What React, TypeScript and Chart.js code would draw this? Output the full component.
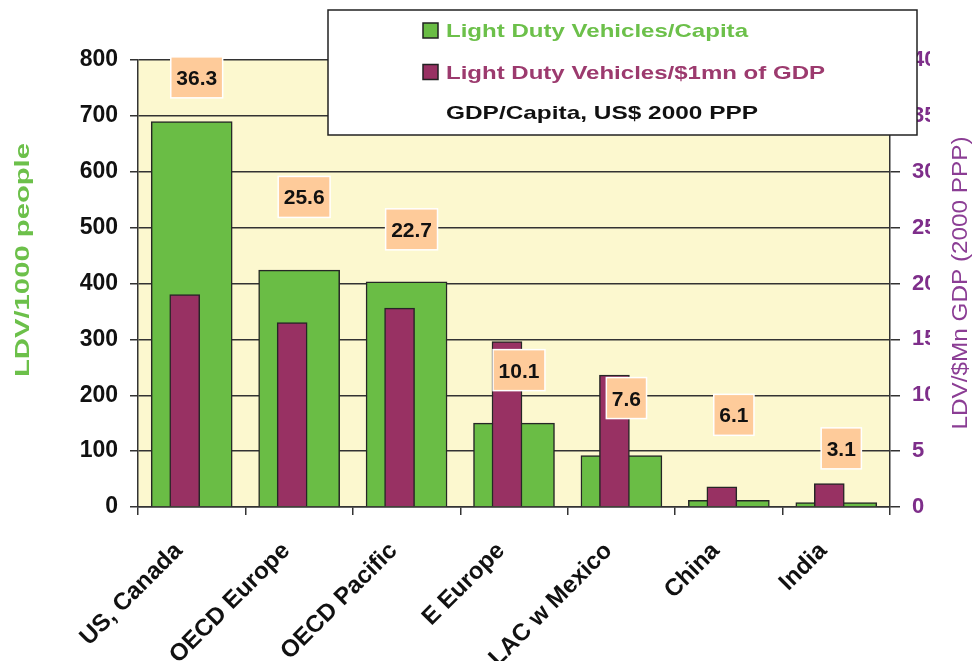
import { useEffect, useRef } from "react";
import { Chart, registerables } from "chart.js";

Chart.register(...registerables);

const categories = ["US, Canada", "OECD Europe", "OECD Pacific", "E Europe", "LAC w Mexico", "China", "India"];
const ldvPerThousand = [690, 424, 403, 150, 92, 12, 8];
const ldvPerMnGdp = [19.0, 16.5, 17.8, 14.8, 11.8, 1.8, 2.1];
const gdpPerCapita = [36.3, 25.6, 22.7, 10.1, 7.6, 6.1, 3.1];
const seriesLabels = [
  "Light Duty Vehicles/Capita",
  "Light Duty Vehicles/$1mn of GDP",
  "GDP/Capita, US$ 2000 PPP",
];
const leftAxisTitle = "LDV/1000 people";
const rightAxisTitle = "LDV/$Mn GDP (2000 PPP)";
const leftAxisRange = [0, 800, 100];
const rightAxisRange = [0, 40, 5];

const FONT = "'Liberation Sans', Arial, sans-serif";
const GREEN = "#6ABD45";
const PURPLE = "#983163";
const PLOT_BG = "#FCF8CF";
const GRID = "#333333";

function drawFitted(
  ctx: CanvasRenderingContext2D,
  text: string,
  cx: number,
  cy: number,
  targetWidth: number,
  rotation: number,
  align: "center" | "left"
) {
  const w = ctx.measureText(text).width;
  const sx = targetWidth / w;
  ctx.save();
  ctx.translate(cx, cy);
  ctx.rotate(rotation);
  ctx.scale(sx, 1);
  ctx.textAlign = align;
  ctx.fillText(text, 0, 0);
  ctx.restore();
}

const backgroundPlugin = {
  id: "plotBackground",
  beforeDraw(chart: any) {
    const { ctx, chartArea } = chart;
    ctx.save();
    ctx.fillStyle = PLOT_BG;
    ctx.fillRect(chartArea.left, chartArea.top, chartArea.right - chartArea.left, chartArea.bottom - chartArea.top);
    ctx.restore();
  },
};

const gdpLabelPlugin = {
  id: "gdpLabels",
  afterDatasetsDraw(chart: any) {
    const { ctx } = chart;
    const meta = chart.getDatasetMeta(2);
    const values = chart.data.datasets[2].data as number[];
    ctx.save();
    ctx.font = `bold 21px ${FONT}`;
    meta.data.forEach((pt: any, i: number) => {
      const text = values[i].toFixed(1);
      const tw = ctx.measureText(text).width;
      const w = tw + 11;
      const h = 41;
      const cx = pt.x + 5;
      const cy = pt.y - 24;
      ctx.fillStyle = "#FECB9A";
      ctx.fillRect(cx - w / 2, cy - h / 2, w, h);
      ctx.strokeStyle = "#FFFFFF";
      ctx.lineWidth = 1.5;
      ctx.strokeRect(cx - w / 2, cy - h / 2, w, h);
      ctx.fillStyle = "#111111";
      ctx.textAlign = "center";
      ctx.textBaseline = "alphabetic";
      ctx.fillText(text, cx, cy + 7.5);
    });
    ctx.restore();
  },
};

const overlayPlugin = {
  id: "overlay",
  afterDraw(chart: any) {
    const { ctx } = chart;
    ctx.save();
    // axis titles
    ctx.textBaseline = "middle";
    ctx.font = `bold 21px ${FONT}`;
    ctx.fillStyle = "#6CC04A";
    drawFitted(ctx, leftAxisTitle, 23, 260, 234, -Math.PI / 2, "center");
    ctx.font = `22px ${FONT}`;
    ctx.fillStyle = "#8B3D94";
    drawFitted(ctx, rightAxisTitle, 961, 283, 293, -Math.PI / 2, "center");

    // legend box
    const bx = 328, by = 10, bw = 589, bh = 125;
    ctx.fillStyle = "#FFFFFF";
    ctx.fillRect(bx, by, bw, bh);
    ctx.strokeStyle = "#222222";
    ctx.lineWidth = 1.5;
    ctx.strokeRect(bx, by, bw, bh);

    const ds = chart.data.datasets;
    const rows = [
      { y: 37, color: "#6CC04A", box: ds[0].backgroundColor, width: 302 },
      { y: 78.5, color: "#9C3A6E", box: ds[1].backgroundColor, width: 379 },
      { y: 119, color: "#111111", box: null, width: 312 },
    ];
    ctx.font = `bold 19px ${FONT}`;
    ctx.textBaseline = "alphabetic";
    rows.forEach((r, i) => {
      if (r.box) {
        ctx.fillStyle = r.box;
        ctx.fillRect(423, r.y - 14, 15, 15);
        ctx.strokeStyle = "#222222";
        ctx.lineWidth = 1.5;
        ctx.strokeRect(423, r.y - 14, 15, 15);
      }
      ctx.fillStyle = r.color;
      drawFitted(ctx, ds[i].label, 446, r.y, r.width, 0, "left");
    });
    ctx.restore();
  },
};

export default function App() {
  const canvasRef = useRef<HTMLCanvasElement | null>(null);

  useEffect(() => {
    if (!canvasRef.current) return;
    const shift = 7 / 107.43;
    const chart = new Chart(canvasRef.current, {
      type: "bar",
      data: {
        labels: categories,
        datasets: [
          {
            type: "bar",
            label: seriesLabels[0],
            data: ldvPerThousand,
            backgroundColor: GREEN,
            borderColor: "#262626",
            borderWidth: 1.5,
            barThickness: 81,
            grouped: false,
            xAxisID: "x",
            yAxisID: "y",
            order: 2,
          },
          {
            type: "bar",
            label: seriesLabels[1],
            data: ldvPerMnGdp.map((v, i) => ({ x: i, y: v })),
            backgroundColor: PURPLE,
            borderColor: "#262626",
            borderWidth: 1.5,
            barThickness: 30,
            grouped: false,
            xAxisID: "x2",
            yAxisID: "y2",
            order: 1,
          },
          {
            type: "line",
            label: seriesLabels[2],
            data: gdpPerCapita,
            showLine: false,
            pointRadius: 0,
            pointHoverRadius: 0,
            borderColor: "rgba(0,0,0,0)",
            backgroundColor: "rgba(0,0,0,0)",
            xAxisID: "x",
            yAxisID: "y2",
            order: 0,
          },
        ] as any,
      },
      options: {
        responsive: false,
        animation: false,
        devicePixelRatio: 1,
        layout: { padding: { left: 80, right: 43, top: 60, bottom: 0 } },
        plugins: {
          legend: { display: false },
          tooltip: { enabled: false },
          title: { display: false },
        },
        scales: {
          x: {
            type: "category",
            offset: true,
            grid: {
              offset: true,
              drawOnChartArea: false,
              drawTicks: true,
              tickLength: 8,
              color: GRID,
              lineWidth: 1.5,
            },
            border: { display: true, color: GRID, width: 1.5 },
            ticks: {
              minRotation: 45,
              maxRotation: 45,
              autoSkip: false,
              padding: 22,
              labelOffset: -13,
              color: "#111111",
              font: { family: FONT, size: 24, weight: "bold" },
            },
            afterFit(scale: any) {
              scale.height = 154;
            },
          },
          x2: {
            type: "linear",
            display: false,
            min: -0.5 + shift,
            max: 6.5 + shift,
            offset: false,
          },
          y: {
            position: "left",
            min: leftAxisRange[0],
            max: leftAxisRange[1],
            ticks: {
              stepSize: leftAxisRange[2],
              padding: 12,
              color: "#111111",
              font: { family: FONT, size: 23, weight: "bold" },
            },
            grid: { color: GRID, lineWidth: 1.5, tickLength: 8 },
            border: { display: true, color: GRID, width: 1.5 },
            afterFit(scale: any) {
              scale.width = 58;
            },
          },
          y2: {
            position: "right",
            min: rightAxisRange[0],
            max: rightAxisRange[1],
            ticks: {
              stepSize: rightAxisRange[2],
              padding: 12,
              color: "#7E2E8A",
              font: { family: FONT, size: 22, weight: "bold" },
            },
            grid: { drawOnChartArea: false, color: GRID, lineWidth: 1.5, tickLength: 10 },
            border: { display: true, color: GRID, width: 1.5 },
            afterFit(scale: any) {
              scale.width = 40;
            },
          },
        } as any,
      },
      plugins: [backgroundPlugin, gdpLabelPlugin, overlayPlugin],
    });
    return () => chart.destroy();
  }, []);

  return (
    <div style={{ position: "fixed", left: 0, top: 0, width: 973, height: 661, background: "#FFFFFF" }}>
      <canvas ref={canvasRef} width={973} height={661} style={{ display: "block" }} />
    </div>
  );
}
